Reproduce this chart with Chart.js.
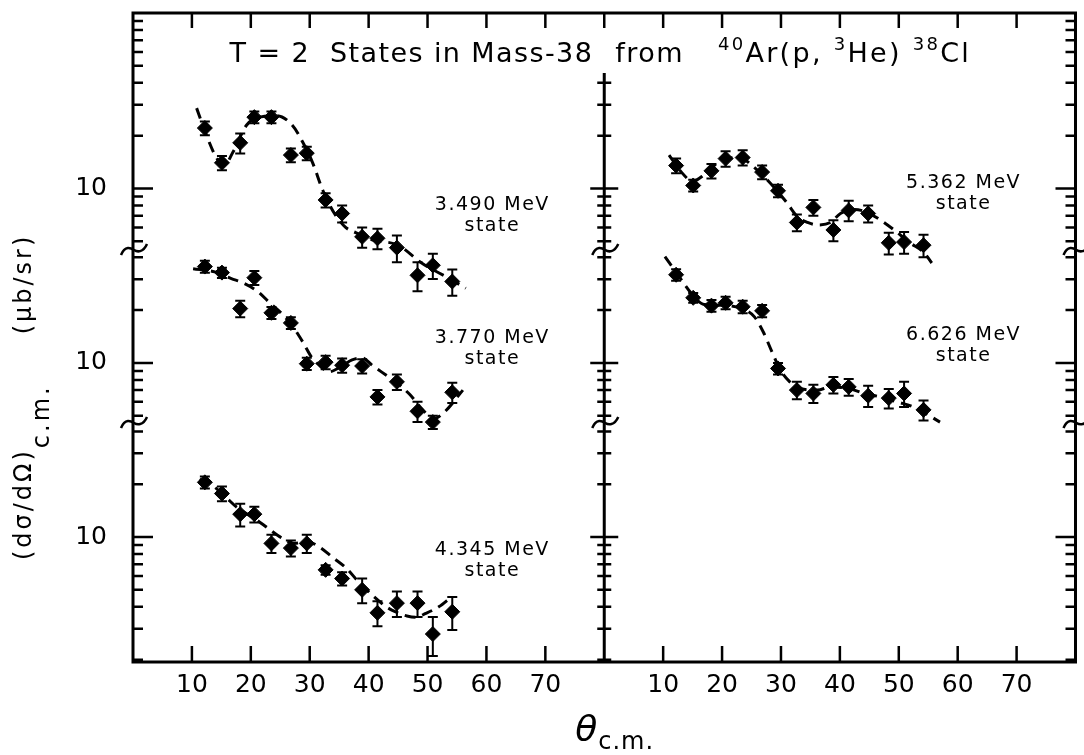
<!DOCTYPE html>
<html>
<head>
<meta charset="utf-8">
<script src="https://cdn.jsdelivr.net/npm/chart.js@4.4.1/dist/chart.umd.min.js"></script>
<style>
  html, body { margin: 0; padding: 0; background: #fff; }
  canvas { display: block; }
</style>
</head>
<body>
<canvas id="massChart" width="1084" height="755"></canvas>
<script>
// measured c.m. angles, shared by all five states
var angles = [12.2, 15.1, 18.2, 20.6, 23.5, 26.8, 29.5, 32.7, 35.5, 38.9, 41.5, 44.8, 48.3, 50.9, 54.2];

// cross sections (mub/sr) and their errors
var values3490 = [22.1, 14.0, 18.2, 25.5, 25.5, 15.5, 15.9, 8.6, 7.2, 5.3, 5.2, 4.6, 3.2, 3.65, 2.95];
var errors3490 = [2.0, 1.3, 2.4, 2.0, 2.0, 1.4, 1.4, 0.8, 0.8, 0.7, 0.7, 0.8, 0.6, 0.6, 0.5];
var values3770 = [35.4, 32.7, 20.4, 30.6, 19.3, 16.9, 9.9, 10.1, 9.7, 9.6, 6.4, 7.8, 5.3, 4.6, 6.8];
var errors3770 = [2.8, 2.2, 2.2, 2.8, 1.5, 1.3, 0.8, 0.9, 0.9, 0.9, 0.6, 0.8, 0.7, 0.4, 0.9];
var values4345 = [20.5, 17.7, 13.5, 13.5, 9.2, 8.65, 9.2, 6.5, 5.8, 5.0, 3.7, 4.2, 4.2, 2.8, 3.75];
var errors4345 = [1.6, 1.7, 2.0, 1.4, 1.1, 0.9, 1.1, 0.4, 0.5, 0.8, 0.6, 0.7, 0.7, 0.7, 0.8];
var values5362 = [13.5, 10.4, 12.6, 14.8, 15.0, 12.4, 9.7, 6.4, 7.8, 5.8, 7.5, 7.2, 4.9, 4.95, 4.75];
var errors5362 = [1.3, 0.8, 1.2, 1.5, 1.5, 1.1, 0.8, 0.7, 0.8, 0.8, 1.0, 0.8, 0.7, 0.7, 0.7];
var values6626 = [31.8, 23.5, 21.2, 22.0, 20.9, 19.8, 9.3, 7.0, 6.7, 7.5, 7.3, 6.5, 6.3, 6.7, 5.4];
var errors6626 = [2.4, 1.5, 1.6, 1.8, 1.7, 1.6, 0.7, 0.8, 0.8, 0.8, 0.8, 0.9, 0.8, 1.1, 0.7];

// dashed curves
var curveAngles3490 = [10.8, 12.5, 14.2, 15.5, 17, 19.3, 21.5, 24.4, 27, 28.8, 30.5, 32.2, 34.2, 36.1, 37.8, 40.6, 45, 49, 53.6, 56.5];
var curveValues3490 = [28.7, 20, 14.9, 13.6, 16.2, 23, 25.5, 26, 23, 18.4, 14, 9.8, 7.2, 6.0, 5.6, 5.1, 4.75, 3.76, 3.08, 2.7];
var curveAngles3770 = [10.2, 13.9, 16.7, 18.6, 21.2, 23.2, 24.9, 26.9, 28.8, 30.3, 31.6, 33.3, 35, 37.2, 38.9, 40.6, 43, 44.8, 47, 49, 51, 53, 56];
var curveValues3770 = [34.4, 33, 30.2, 28.7, 25.5, 22, 19.6, 16.5, 13.2, 10.8, 9.7, 8.9, 9.4, 10.4, 10.7, 9.7, 8.5, 7.7, 6.6, 5.5, 4.8, 5.3, 7.0];
var curveAngles4345 = [11.3, 13.4, 15.9, 17.6, 21, 22.8, 25.2, 27.4, 29.6, 31.6, 33.8, 36.2, 38.4, 40.6, 43, 44.7, 46.5, 48, 49.7, 51.9, 54];
var curveValues4345 = [21.3, 19.8, 16.7, 14.8, 12.5, 11.3, 9.9, 9.2, 9.4, 8.8, 7.7, 6.65, 5.5, 4.67, 4.0, 3.73, 3.55, 3.49, 3.67, 4.0, 4.54];
var curveAngles5362 = [11, 13, 15, 17, 19, 21, 23, 25, 27, 29, 31, 32.8, 34.5, 36.2, 38.4, 40.1, 42.5, 45, 47.2, 49.2, 51.9, 54.3, 55.6];
var curveValues5362 = [15.5, 12.5, 11, 12, 13.8, 14.8, 15, 13.6, 11.8, 10, 8.3, 6.9, 6.4, 6.2, 6.4, 7.2, 7.6, 7.2, 6.5, 5.8, 4.9, 4.3, 3.76];
var curveAngles6626 = [10.3, 12.5, 14.7, 17, 20, 23.8, 25.5, 27, 28.5, 30, 31.5, 33, 36.2, 38.4, 41.8, 44.1, 46.9, 49.7, 52.6, 57];
var curveValues6626 = [40.3, 31.8, 25.1, 21.5, 21.3, 20.1, 18.3, 15, 11.5, 9, 7.8, 7.2, 7.0, 7.3, 7.1, 6.7, 6.4, 6.0, 5.6, 4.6];

// axes
var xTicks = [10, 20, 30, 40, 50, 60, 70];
var yTicks = [2, 3, 4, 5, 6, 7, 8, 9, 10, 20, 30, 40, 50, 60, 70, 80, 90];
var rangeTop = [4.46, 100];
var rangeMid = [4.55, 44];
var rangeBottom = [1.94, 44.7];

var states = [
    { label: "3.490 MeV", values: values3490, errors: errors3490, cx: curveAngles3490, cy: curveValues3490, xAxis: "xL", yAxis: "yT", at: [61, 8.0] },
    { label: "3.770 MeV", values: values3770, errors: errors3770, cx: curveAngles3770, cy: curveValues3770, xAxis: "xL", yAxis: "yM", at: [61, 13.9] },
    { label: "4.345 MeV", values: values4345, errors: errors4345, cx: curveAngles4345, cy: curveValues4345, xAxis: "xL", yAxis: "yB", at: [61, 8.4] },
    { label: "5.362 MeV", values: values5362, errors: errors5362, cx: curveAngles5362, cy: curveValues5362, xAxis: "xR", yAxis: "yT", at: [61, 10.7] },
    { label: "6.626 MeV", values: values6626, errors: errors6626, cx: curveAngles6626, cy: curveValues6626, xAxis: "xR", yAxis: "yM", at: [61, 14.4] }
];

function pairs(xs, ys) {
    return xs.map(function (x, i) { return { x: x, y: ys[i] }; });
}

var datasets = [];
states.forEach(function (st) {
    datasets.push({
        data: pairs(st.cx, st.cy),
        xAxisID: st.xAxis, yAxisID: st.yAxis,
        showLine: true, pointRadius: 0,
        borderColor: "#000", borderWidth: 3, borderDash: [11, 7],
        cubicInterpolationMode: "monotone"
    });
    datasets.push({
        data: pairs(angles, st.values),
        errors: st.errors,
        xAxisID: st.xAxis, yAxisID: st.yAxis,
        pointStyle: "rectRot", pointRadius: 7.5,
        backgroundColor: "#000", borderColor: "#000", borderWidth: 1
    });
});

var tickFont = { family: "DejaVu Sans", size: 25 };

function xScale(weight) {
    return {
        type: "linear", position: "bottom", stack: "x", stackWeight: 1, weight: weight,
        min: 0, max: 80, clip: false,
        afterBuildTicks: function (sc) { sc.ticks = xTicks.map(function (v) { return { value: v }; }); },
        afterFit: function (sc) { sc.height = 93; sc.paddingLeft = 0; sc.paddingRight = 0; },
        grid: { display: false, drawTicks: false },
        border: { display: false },
        ticks: { color: "#000", font: tickFont, padding: 8, maxRotation: 0, autoSkip: false,
                 callback: function (v) { return String(v); } }
    };
}

function yScale(range, weight) {
    return {
        type: "logarithmic", position: "left", stack: "y", weight: weight,
        stackWeight: Math.log10(range[1] / range[0]),
        min: range[0], max: range[1], clip: false,
        afterBuildTicks: function (sc) {
            sc.ticks = yTicks.filter(function (v) { return v > sc.min * 1.01 && v < sc.max * 0.99; })
                .map(function (v) { return { value: v }; });
        },
        afterFit: function (sc) { sc.width = 133; sc.paddingTop = 0; sc.paddingBottom = 0; },
        grid: { display: false, drawTicks: false },
        border: { display: false },
        ticks: { color: "#000", font: tickFont, padding: 26, autoSkip: false,
                 callback: function (v) { return v === 10 ? "10" : ""; } }
    };
}

function drawBreak(ctx, x, y) {
    ctx.beginPath();
    ctx.moveTo(x - 12, y + 5);
    ctx.bezierCurveTo(x - 8, y - 5, x - 2, y - 2, x + 1, y);
    ctx.bezierCurveTo(x + 4, y + 2, x + 10, y + 3, x + 14, y - 6);
    ctx.stroke();
}

var frameTicks = {
    id: "frameTicks",
    afterDraw: function (chart) {
        var ctx = chart.ctx, a = chart.chartArea, s = chart.scales;
        var mid = s.xL.right;
        var midTop = a.top + 60;   // divider stops short of the title
        ctx.save();
        ctx.strokeStyle = "#000";
        ctx.lineWidth = 3;
        ctx.strokeRect(a.left, a.top, a.right - a.left, a.bottom - a.top);
        ctx.beginPath();
        ctx.moveTo(mid, midTop);
        ctx.lineTo(mid, a.bottom);
        ctx.stroke();

        ctx.lineWidth = 2.5;
        ctx.beginPath();
        ctx.moveTo(mid, a.top); ctx.lineTo(mid, a.top + 15);
        ["xL", "xR"].forEach(function (id) {
            s[id].ticks.forEach(function (t) {
                var px = s[id].getPixelForValue(t.value);
                ctx.moveTo(px, a.bottom); ctx.lineTo(px, a.bottom - 16);
                ctx.moveTo(px, a.top); ctx.lineTo(px, a.top + 15);
            });
        });
        ["yT", "yM", "yB"].forEach(function (id) {
            s[id].ticks.forEach(function (t) {
                var py = s[id].getPixelForValue(t.value);
                var major = t.value === 10;
                var len = major ? 20 : 10, half = major ? 14 : 7;
                ctx.moveTo(a.left, py); ctx.lineTo(a.left + len, py);
                ctx.moveTo(a.right, py); ctx.lineTo(a.right - len, py);
                if (py > midTop) {
                    ctx.moveTo(mid - half, py); ctx.lineTo(mid + half, py);
                }
            });
        });
        ctx.stroke();

        [s.yT.bottom, s.yM.bottom].forEach(function (by) {
            [a.left, mid, a.right].forEach(function (bx) { drawBreak(ctx, bx, by); });
        });
        ctx.restore();
    }
};

var errorBars = {
    id: "errorBars",
    afterDatasetsDraw: function (chart) {
        var ctx = chart.ctx;
        ctx.save();
        ctx.strokeStyle = "#000";
        ctx.lineWidth = 2;
        chart.data.datasets.forEach(function (ds, i) {
            if (!ds.errors) return;
            var ys = chart.scales[ds.yAxisID];
            chart.getDatasetMeta(i).data.forEach(function (pt, j) {
                var v = ds.data[j].y, e = ds.errors[j];
                var top = ys.getPixelForValue(v + e), bot = ys.getPixelForValue(v - e);
                ctx.beginPath();
                ctx.moveTo(pt.x, top); ctx.lineTo(pt.x, bot);
                ctx.moveTo(pt.x - 5, top); ctx.lineTo(pt.x + 5, top);
                ctx.moveTo(pt.x - 5, bot); ctx.lineTo(pt.x + 5, bot);
                ctx.stroke();
            });
        });
        ctx.restore();
    }
};

// text runs: [text, size, baseline shift, italic]
function drawRuns(ctx, runs, x, y, spacing) {
    runs.forEach(function (r) {
        ctx.font = (r[3] ? "italic " : "") + r[1] + "px 'DejaVu Sans'";
        ctx.letterSpacing = spacing + "px";
        ctx.fillText(r[0], x, y + r[2]);
        x += ctx.measureText(r[0]).width;
    });
    return x;
}

var texts = {
    id: "texts",
    afterDraw: function (chart) {
        var ctx = chart.ctx, a = chart.chartArea, s = chart.scales;
        ctx.save();
        ctx.fillStyle = "#000";
        ctx.textBaseline = "alphabetic";
        ctx.textAlign = "left";

        // title inside the frame
        var ty = a.top + 49;
        drawRuns(ctx, [["T = 2  States in Mass-38", 27, 0]], s.xL.getPixelForValue(16.4), ty, 1.4);
        drawRuns(ctx, [["from", 27, 0]], s.xL.right + 11, ty, 1.5);
        drawRuns(ctx, [["40", 18, -12], ["Ar(p, ", 27, 0], ["3", 18, -12], ["He) ", 27, 0], ["38", 18, -12], ["Cl", 27, 0]],
            s.xR.getPixelForValue(19.3), ty, 2.3);

        // state labels
        ctx.textAlign = "center";
        ctx.font = "19px 'DejaVu Sans'";
        ctx.letterSpacing = "1.5px";
        ctx.textBaseline = "middle";
        states.forEach(function (st) {
            var x = s[st.xAxis].getPixelForValue(st.at[0]);
            var y = s[st.yAxis].getPixelForValue(st.at[1]);
            ctx.fillText(st.label, x, y);
            ctx.fillText("state", x, y + 21);
        });

        // x axis title
        ctx.textAlign = "left";
        ctx.textBaseline = "alphabetic";
        drawRuns(ctx, [["\u03B8", 36, 0, true], ["c.m.", 24, 8]], s.xL.right - 29, a.bottom + 79, 1);

        // y axis title, rotated, reading upwards
        ctx.translate(31, s.yB.getPixelForValue(10) + 23);
        ctx.rotate(-Math.PI / 2);
        var end = drawRuns(ctx, [["(d\u03C3/d\u03A9)", 24, 0], ["c.m.", 24, 18]], 0, 0, 3);
        drawRuns(ctx, [["(\u03BCb/sr)", 24, 0]], end + 50, 0, 3);
        ctx.restore();
    }
};

new Chart(document.getElementById("massChart"), {
    type: "scatter",
    data: { datasets: datasets },
    options: {
        responsive: false,
        animation: false,
        layout: { padding: { top: 13, right: 3, left: 0, bottom: 0 } },
        plugins: { legend: { display: false }, tooltip: { enabled: false } },
        scales: {
            xL: xScale(0),
            xR: xScale(1),
            yT: yScale(rangeTop, 3),
            yM: yScale(rangeMid, 2),
            yB: yScale(rangeBottom, 1)
        }
    },
    plugins: [errorBars, frameTicks, texts]
});
</script>
</body>
</html>
